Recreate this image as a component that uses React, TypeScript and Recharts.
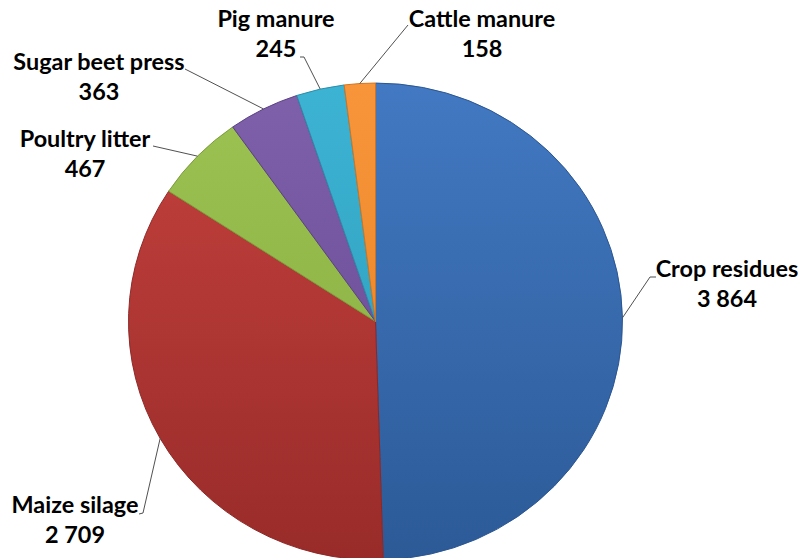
import React from "react";
import { PieChart, Pie, Cell } from "recharts";

const categories = [
  "Crop residues",
  "Maize silage",
  "Poultry litter",
  "Sugar beet press",
  "Pig manure",
  "Cattle manure",
];
const amounts = [3864, 2709, 467, 363, 245, 158];

const colors = [
  { top: "#4279c2", bottom: "#2c5a97", edge: "#2a5590" },
  { top: "#c6423e", bottom: "#982b29", edge: "#8c2826" },
  { top: "#9cc352", bottom: "#86a940", edge: "#7a9a3a" },
  { top: "#7f60aa", bottom: "#634690", edge: "#5a4084" },
  { top: "#3db3d3", bottom: "#2b98b6", edge: "#2a8ca8" },
  { top: "#f8953a", bottom: "#e57f22", edge: "#d0741f" },
];

// where each label sits: text centre x, first baseline y, then the elbow of the leader
const labelLayout = [
  { x: 727, y: 277, lead: [[656, 277], [650, 277]] },
  { x: 75, y: 513, lead: [[139, 514], [143, 513]] },
  { x: 85, y: 147, lead: [[153, 146]] },
  { x: 99, y: 70, lead: [[185, 69]] },
  { x: 276, y: 27, lead: [[300, 57], [304, 57]] },
  { x: 482, y: 27, lead: [[408, 25]] },
];

const data = categories.map((name, i) => ({ name, value: amounts[i] }));

// the pie is drawn round and squeezed a little vertically
const SY = 0.9656;
const W = 798;
const H = 580;
const CX = 375.5;
const CY = 333;
const R = 247;
const RAD = Math.PI / 180;
const FONT = "Lato, 'Liberation Sans', sans-serif";

const fmt = (v: number) => String(v).replace(/\B(?=(\d{3})+(?!\d))/g, " ");

const renderLabel = (props: any) => {
  const { cx, cy, midAngle, outerRadius, index, value, name } = props;
  const lay = labelLayout[index];
  const ex = cx + outerRadius * Math.cos(-midAngle * RAD);
  const ey = cy + outerRadius * Math.sin(-midAngle * RAD);
  const pts = [...lay.lead.map(([px, py]) => [px, py / SY]), [ex, ey]];
  const path = pts.map((p) => p.join(",")).join(" ");
  return (
    <g>
      <polyline points={path} fill="none" stroke="#4d4d4d" strokeWidth={1} />
      <text x={lay.x} y={lay.y / SY} textAnchor="middle" fill="#000" fontSize={23.4} fontWeight={700} fontFamily={FONT}>
        {name}
      </text>
      <text x={lay.x} y={(lay.y + 30) / SY} textAnchor="middle" fill="#000" fontSize={23.4} fontWeight={700} fontFamily={FONT}>
        {fmt(value)}
      </text>
    </g>
  );
};

export default function App() {
  return (
    <div
      style={{
        position: "absolute",
        left: 0,
        top: 0,
        width: W,
        height: 558,
        overflow: "hidden",
        background: "#fff",
      }}
    >
      <div style={{ width: W, height: H, transform: `scaleY(${SY})`, transformOrigin: "top left" }}>
        <PieChart width={W} height={H} margin={{ top: 0, right: 0, bottom: 0, left: 0 }}>
          <defs>
            {colors.map((c, i) => (
              <linearGradient
                key={`g${i}`}
                id={`slice${i}`}
                gradientUnits="userSpaceOnUse"
                x1={0}
                y1={CY - R}
                x2={0}
                y2={CY + R}
              >
                <stop offset="0%" stopColor={c.top} />
                <stop offset="100%" stopColor={c.bottom} />
              </linearGradient>
            ))}
          </defs>
          <Pie
            data={data}
            dataKey="value"
            nameKey="name"
            cx={CX}
            cy={CY}
            outerRadius={R}
            startAngle={90}
            endAngle={-270}
            label={renderLabel}
            labelLine={false}
            isAnimationActive={false}
          >
            {data.map((d, i) => (
              <Cell key={d.name} fill={`url(#slice${i})`} stroke={colors[i].edge} strokeWidth={1} />
            ))}
          </Pie>
        </PieChart>
      </div>
    </div>
  );
}
